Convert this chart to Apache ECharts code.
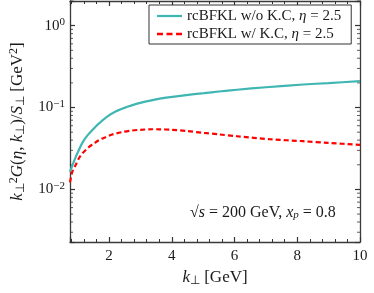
<!DOCTYPE html>
<html><head><meta charset="utf-8">
<script src="https://cdn.jsdelivr.net/npm/echarts@6/dist/echarts.min.js"></script>
<style>html,body{margin:0;padding:0;background:#fff}#c{width:374px;height:293px}</style>
</head><body><div id="c"></div>
<script>
// data
const kCyan = [0.756,0.85,0.94,1.05,1.15,1.3,1.47,1.6,1.92,2.24,2.56,2.87,3.19,3.5,3.82,4.4,5.03,5.5,6.08,7.0,8.19,9.0,10];
const gCyan = [0.0164,0.0205,0.025,0.031,0.037,0.045,0.053,0.060,0.0766,0.0906,0.1014,0.111,0.119,0.126,0.132,0.141,0.150,0.157,0.165,0.177,0.191,0.199,0.210];
const kRed = [0.756,0.83,0.94,1.04,1.15,1.36,1.5,1.67,1.89,2.1,2.4,2.73,3.0,3.36,3.6,4.0,4.5,5.03,5.5,6.08,7.14,8.19,9.0,10];
const gRed = [0.0122,0.0164,0.020,0.024,0.0275,0.033,0.036,0.0399,0.0435,0.0468,0.050,0.0524,0.0535,0.0543,0.0542,0.0535,0.0515,0.049,0.047,0.0446,0.041,0.0388,0.037,0.035];
const xMajor = [2,4,6,8,10];
const xMinor = [0.8,1.2,1.6,2.4,2.8,3.2,3.6,4.4,4.8,5.2,5.6,6.4,6.8,7.2,7.6,8.4,8.8,9.2,9.6];
const yMajor = [0.01,0.1,1];
const yMinor = [0.003,0.004,0.005,0.006,0.007,0.008,0.009,0.02,0.03,0.04,0.05,0.06,0.07,0.08,0.09,0.2,0.3,0.4,0.5,0.6,0.7,0.8,0.9,2];
const seriesNames = ['rcBFKL w/o K.C, {i|η} = 2.5','rcBFKL w/ K.C, {i|η} = 2.5'];

const XMIN = 0.756, XMAX = 10, YMIN = 0.00228, YMAX = 2.0;
const FONT = 'Liberation Serif';
const AX = '#3a3a3a';
const TXT = '#1a1a1a';
function mkRich(fs){
  const s = Math.round(fs*0.7), p = Math.round(fs*0.4);
  return {
    i:{fontFamily:FONT,fontStyle:'italic',fontSize:fs,color:TXT},
    sub:{fontFamily:FONT,fontSize:s,color:TXT,verticalAlign:'bottom',padding:[p,0,0,0]},
    subi:{fontFamily:FONT,fontStyle:'italic',fontSize:s,color:TXT,verticalAlign:'bottom',padding:[p,0,0,0]},
    sup:{fontFamily:FONT,fontSize:s,color:TXT,verticalAlign:'top',padding:[0,0,p,0]}
  };
}
const chart = echarts.init(document.getElementById('c'));
chart.setOption({
  animation:false,
  grid:{left:68,right:14,top:1,bottom:51,containLabel:false},
  xAxis:[
    {type:'value',min:XMIN,max:XMAX,position:'bottom',
     axisLine:{show:true,onZero:false,lineStyle:{color:AX,width:1.3}},
     axisTick:{show:true,inside:true,length:5,lineStyle:{color:'#333',width:1.2}},
     minorTick:{show:true,splitNumber:5,length:3,lineStyle:{color:'#333',width:1}},
     axisLabel:{customValues:xMajor,margin:7,fontFamily:FONT,fontSize:15,color:TXT},
     splitLine:{show:false},
     name:'{i|k}{sub|⊥} [GeV]',nameLocation:'middle',nameGap:25,
     nameTextStyle:{fontFamily:FONT,fontSize:17,color:TXT,rich:mkRich(17)}},
    {type:'value',min:XMIN,max:XMAX,position:'top',
     axisLine:{show:true,onZero:false,lineStyle:{color:AX,width:1.3}},
     axisTick:{show:true,inside:true,length:5,lineStyle:{color:'#333',width:1.2}},
     minorTick:{show:true,splitNumber:5,length:3,lineStyle:{color:'#333',width:1}},
     axisLabel:{show:false},splitLine:{show:false}}
  ],
  yAxis:[
    {type:'log',logBase:10,min:YMIN,max:YMAX,position:'left',
     axisLine:{show:true,onZero:false,lineStyle:{color:AX,width:1.3}},
     axisTick:{show:true,inside:true,length:5,lineStyle:{color:'#333',width:1.2}},
     axisLabel:{customValues:yMajor,margin:5,fontFamily:FONT,fontSize:15,color:TXT,
       formatter:function(v){
         const e = Math.round(Math.log10(v));
         return '{b|10}{e|' + (e===0?'0':'−'+(-e)) + '}';
       },
       rich:{b:{fontFamily:FONT,fontSize:15,color:TXT},e:{fontFamily:FONT,fontSize:11,color:TXT,verticalAlign:'top',padding:[0,0,7,0]}}},
     splitLine:{show:false},
     name:'{i|k}{sub|⊥}{sup|2}{i|G}({i|η}, {i|k}{sub|⊥})/{i|S}{sub|⊥} [GeV{sup|2}]',
     nameLocation:'middle',nameRotate:90,nameGap:43,nameTextStyle:{fontFamily:FONT,fontSize:17,color:TXT,rich:mkRich(17)}},
    {type:'log',logBase:10,min:YMIN,max:YMAX,position:'right',
     axisLine:{show:true,onZero:false,lineStyle:{color:AX,width:1.3}},
     axisTick:{show:true,inside:true,length:5,lineStyle:{color:'#333',width:1.2}},
     axisLabel:{show:false},splitLine:{show:false}}
  ],
  legend:{show:true,orient:'vertical',left:149,top:5,
    backgroundColor:'#fff',borderColor:'#333',borderWidth:1,borderRadius:0,
    padding:[3,10,2,8],itemGap:2,itemWidth:25,itemHeight:3,
    textStyle:{fontFamily:FONT,fontSize:15,lineHeight:16,color:TXT,rich:mkRich(15)},
    data:[
      {name:seriesNames[0],icon:'path://M0,0h25v2.2h-25z'},
      {name:seriesNames[1],icon:'path://M0,0h5v2.2h-5zM8,0h5v2.2h-5zM16,0h5v2.2h-5z'}
    ]},
  title:{text:'√{i|s} = 200 GeV, {i|x}{subi|p} = 0.8',left:190,top:204,padding:0,
    textStyle:{fontFamily:FONT,fontSize:16,fontWeight:'normal',color:TXT,rich:mkRich(16)}},
  series:[
    {name:seriesNames[0],type:'line',xAxisIndex:0,yAxisIndex:0,smooth:0.3,showSymbol:false,symbol:'none',
     lineStyle:{color:'#3fb6b2',width:2.2},itemStyle:{color:'#3fb6b2'},
     data:kCyan.map((k,i)=>[k,gCyan[i]])},
    {name:seriesNames[1],type:'line',xAxisIndex:0,yAxisIndex:0,smooth:0.3,showSymbol:false,symbol:'none',
     lineStyle:{color:'#ff0000',width:2.2,type:[5,3]},itemStyle:{color:'#ff0000'},
     data:kRed.map((k,i)=>[k,gRed[i]])},
    // log-axis minor ticks (2..9 × 10^n) on left and right edges
    {type:'scatter',xAxisIndex:0,yAxisIndex:0,symbol:'rect',symbolSize:[3,1],symbolOffset:[1.5,0],
     itemStyle:{color:'#333'},data:yMinor.map(v=>[XMIN,v])},
    {type:'scatter',xAxisIndex:0,yAxisIndex:0,symbol:'rect',symbolSize:[3,1],symbolOffset:[-1.5,0],
     itemStyle:{color:'#333'},data:yMinor.map(v=>[XMAX,v])}
  ]
});
</script></body></html>
